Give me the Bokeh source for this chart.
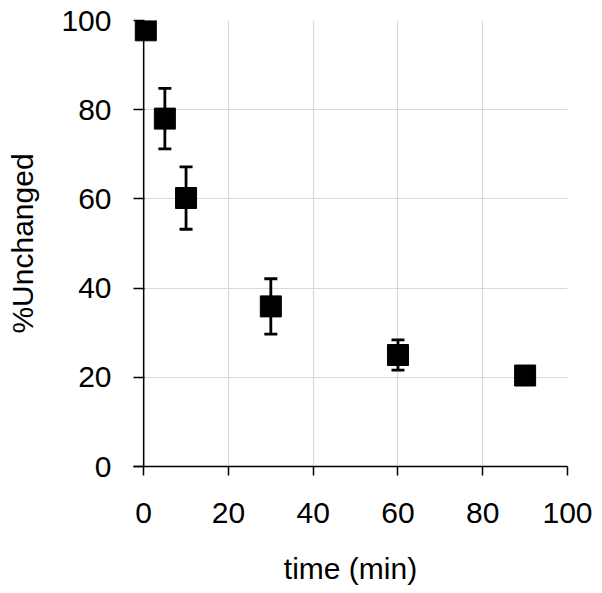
from bokeh.plotting import figure
from bokeh.models import ColumnDataSource, Whisker, TeeHead, Range1d, FixedTicker, Span
from bokeh.embed import file_html
from bokeh.resources import INLINE

# Data
time_min = [0.5, 5, 10, 30, 60, 90]
pct_unchanged = [97.8, 78.0, 60.2, 35.9, 25.0, 20.4]
err = [1.5, 6.8, 7.0, 6.2, 3.4, 1.0]
x_ticks = [0, 20, 40, 60, 80, 100]
y_ticks = [0, 20, 40, 60, 80, 100]

lower = [v - e for v, e in zip(pct_unchanged, err)]
upper = [v + e for v, e in zip(pct_unchanged, err)]
src = ColumnDataSource(dict(x=time_min, y=pct_unchanged, lower=lower, upper=upper))

FONT = "Liberation Sans"

# x range starts slightly below 0 so the y ticks sit between frame edge and x=0
p = figure(width=602, height=593, output_backend="svg", toolbar_location=None,
           x_range=Range1d(-2.4, 100), y_range=Range1d(0, 100),
           min_border_left=133, min_border_right=35, min_border_top=20, min_border_bottom=127)
p.outline_line_color = None
p.background_fill_color = "white"
p.border_fill_color = "white"

for ax in (p.xaxis, p.yaxis):
    ax.major_label_text_font = FONT
    ax.major_label_text_font_size = "30px"
    ax.major_label_text_color = "black"
    ax.axis_label_text_font = FONT
    ax.axis_label_text_font_size = "30px"
    ax.axis_label_text_font_style = "normal"
    ax.axis_label_text_color = "black"
    ax.axis_line_color = "black"
    ax.axis_line_width = 1.5
    ax.major_tick_line_color = "black"
    ax.major_tick_line_width = 1.5
    ax.minor_tick_line_color = None

p.xaxis.ticker = FixedTicker(ticks=x_ticks)
p.yaxis.ticker = FixedTicker(ticks=y_ticks)
p.xaxis.major_tick_in = 0
p.xaxis.major_tick_out = 9
p.yaxis.major_tick_in = 11
p.yaxis.major_tick_out = 0
p.yaxis.axis_line_color = None
p.xaxis.axis_label = "time (min)"
p.yaxis.axis_label = "%Unchanged"
p.xaxis.major_label_standoff = 27
p.yaxis.major_label_standoff = 22
p.xaxis.axis_label_standoff = 26
p.yaxis.axis_label_standoff = 19

p.xgrid.ticker = FixedTicker(ticks=x_ticks)
p.ygrid.ticker = FixedTicker(ticks=y_ticks)
p.xgrid.grid_line_color = "#d9d9d9"
p.ygrid.grid_line_color = "#d9d9d9"
p.xgrid.grid_line_width = 1.2
p.ygrid.grid_line_width = 1.2

# y axis line at x = 0
p.add_layout(Span(location=0, dimension="height", line_color="black", line_width=1.5))

wh = Whisker(source=src, base="x", lower="lower", upper="upper", dimension="height",
             line_color="black", line_width=2.8,
             upper_head=TeeHead(size=13, line_width=2.8, line_color="black"),
             lower_head=TeeHead(size=13, line_width=2.8, line_color="black"))
p.add_layout(wh)

p.scatter("x", "y", source=src, marker="square", size=21,
          fill_color="black", line_color="black")

open("out.html", "w").write(file_html(p, INLINE))
